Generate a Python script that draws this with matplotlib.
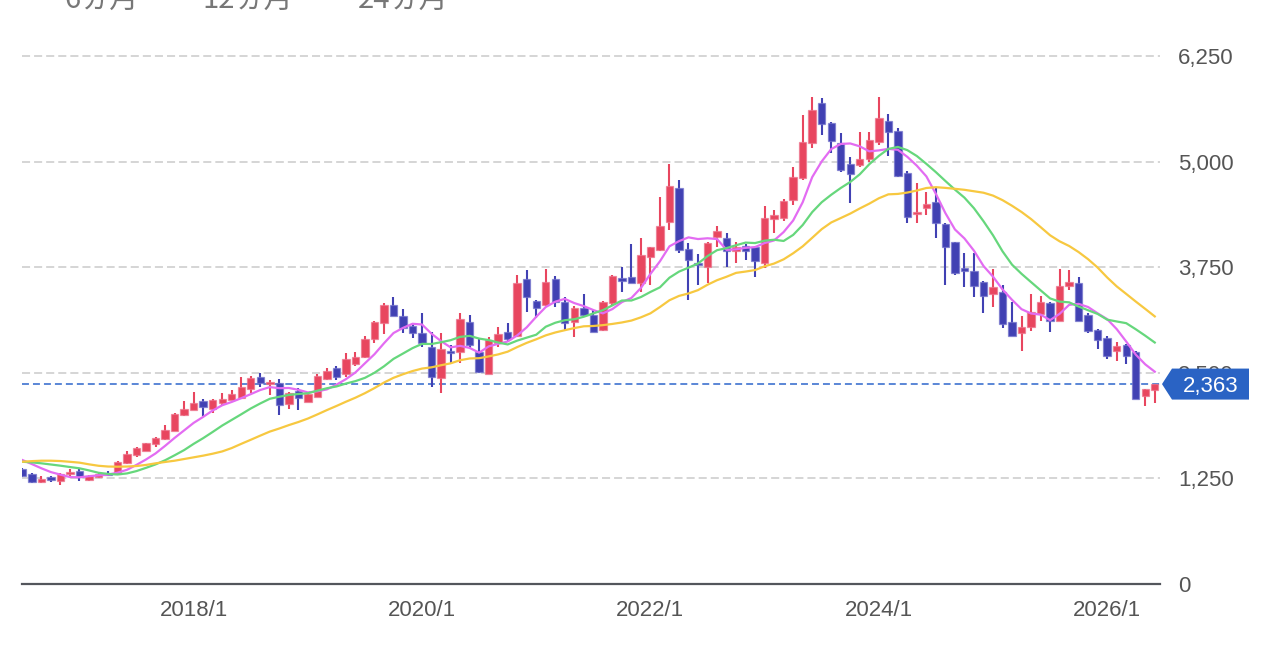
import numpy as np
import pandas as pd
import matplotlib
matplotlib.use("Agg")
import matplotlib.pyplot as plt
from matplotlib.patches import Polygon
import matplotlib.transforms as mtransforms

plt.rcParams['font.family'] = ['Liberation Sans', 'Noto Sans CJK JP', 'DejaVu Sans']
plt.rcParams['lines.scale_dashes'] = False

# ---------------- data (monthly candles) ----------------
start_month = "2016-07"
opens = [1353, 1297, 1203, 1250, 1215, 1294, 1333, 1226, 1258, 1306,
         1294, 1424, 1519, 1574, 1653, 1709, 1811, 1997, 2056, 2162,
         2064, 2135, 2174, 2202, 2301, 2443, 2360, 2372, 2124, 2281,
         2155, 2214, 2420, 2550, 2479, 2605, 2680, 2894, 3090, 3300,
         3170, 3051, 2965, 2806, 2431, 2747, 2747, 3102, 2747, 2483,
         2846, 2984, 2933, 3607, 3348, 3300, 3607, 3340, 3102, 3261,
         3182, 3000, 3320, 3617, 3632, 3557, 3866, 3952, 4288, 4690,
         3964, 3802, 3754, 4102, 4098, 3940, 4003, 3991, 3794, 4315,
         4328, 4545, 4802, 5224, 5690, 5461, 5216, 4967, 4959, 5027,
         5236, 5485, 5362, 4861, 4379, 4446, 4517, 4260, 4043, 3723,
         3703, 3576, 3427, 3451, 3102, 2965, 3043, 3194, 3327, 3114,
         3525, 3565, 3182, 3004, 2905, 2755, 2828, 2740, 2222, 2293]
highs = [1370, 1305, 1274, 1274, 1310, 1353, 1360, 1290, 1310, 1329,
         1450, 1570, 1620, 1670, 1730, 1875, 2015, 2166, 2265, 2190,
         2185, 2261, 2292, 2443, 2455, 2491, 2412, 2420, 2275, 2320,
         2255, 2478, 2550, 2581, 2728, 2743, 2933, 3110, 3327, 3391,
         3249, 3070, 3209, 2984, 2965, 2826, 3202, 3178, 2894, 2925,
         3043, 3083, 3656, 3715, 3360, 3723, 3644, 3391, 3290, 3431,
         3241, 3350, 3660, 3754, 4020, 4091, 3990, 4584, 4971, 4782,
         4031, 3905, 4045, 4236, 4157, 4050, 4020, 4000, 4473, 4426,
         4560, 4932, 5552, 5761, 5749, 5470, 5335, 5050, 5347, 5354,
         5761, 5560, 5402, 4892, 4743, 4643, 4683, 4270, 4050, 3913,
         3913, 3580, 3723, 3537, 3340, 3174, 3427, 3406, 3340, 3723,
         3715, 3636, 3200, 3010, 2930, 2858, 2840, 2760, 2301, 2364]
lows = [1265, 1190, 1195, 1199, 1164, 1274, 1215, 1220, 1250, 1275,
        1290, 1420, 1495, 1570, 1614, 1700, 1805, 1990, 2050, 1985,
        2017, 2110, 2170, 2195, 2253, 2325, 2234, 1997, 2064, 2056,
        2150, 2210, 2412, 2412, 2443, 2581, 2675, 2846, 2957, 3165,
        2965, 2913, 2807, 2332, 2253, 2617, 2617, 2787, 2498, 2478,
        2799, 2866, 2925, 3222, 3143, 3290, 3280, 3004, 2925, 3175,
        2980, 2990, 3300, 3458, 3560, 3458, 3537, 3940, 4189, 3913,
        3359, 3537, 3557, 3991, 3754, 3802, 3833, 3636, 3735, 4150,
        4300, 4485, 4780, 5157, 5315, 5098, 4880, 4505, 4930, 5000,
        5196, 5066, 4813, 4276, 4276, 4370, 4091, 3537, 3650, 3517,
        3391, 3209, 3273, 3024, 2930, 2755, 2996, 3114, 2984, 3110,
        3478, 3105, 2965, 2779, 2660, 2640, 2601, 2183, 2103, 2135]
closes = [1274, 1199, 1238, 1230, 1301, 1325, 1258, 1278, 1294, 1282,
          1443, 1531, 1609, 1661, 1724, 1819, 2009, 2064, 2143, 2088,
          2178, 2190, 2245, 2332, 2431, 2380, 2385, 2112, 2261, 2202,
          2245, 2459, 2522, 2443, 2657, 2680, 2897, 3102, 3300, 3170,
          3024, 2972, 2846, 2443, 2775, 2728, 3131, 2826, 2510, 2886,
          2957, 2894, 3566, 3399, 3261, 3578, 3340, 3090, 3269, 3182,
          2984, 3340, 3644, 3585, 3565, 3893, 3984, 4236, 4710, 3952,
          3833, 3774, 4039, 4181, 3940, 3991, 3940, 3826, 4328, 4366,
          4536, 4813, 5236, 5611, 5445, 5244, 4900, 4849, 5030, 5256,
          5512, 5354, 4833, 4347, 4399, 4497, 4268, 3984, 3676, 3707,
          3529, 3410, 3510, 3075, 2936, 3043, 3222, 3332, 3114, 3525,
          3576, 3111, 2996, 2886, 2700, 2818, 2692, 2183, 2301, 2363]

# moving-average values at the start of the chart (before a full window exists)
ma6_head = [1463, 1415, 1365, 1320, 1290]
ma12_head = [1443, 1435, 1424, 1410, 1396, 1380, 1365, 1340, 1312, 1298, 1292]
ma24_head = [1443, 1450, 1455, 1455, 1451, 1442, 1432, 1412, 1395, 1386, 1384, 1386,
             1392, 1405, 1424, 1440, 1455, 1475, 1495, 1515, 1538, 1565, 1605]

ma_windows = [6, 12, 24]
ma_heads = [ma6_head, ma12_head, ma24_head]
ma_colors = ["#e36cf2", "#66d77c", "#f7c840"]
legend_labels = ["6ヵ月", "12ヵ月", "24ヵ月"]

ytick_values = [0, 1250, 2500, 3750, 5000, 6250]
xtick_labels = ["2018/1", "2020/1", "2022/1", "2024/1", "2026/1"]

# ---------------- figure ----------------
W, H = 1268, 650
fig = plt.figure(figsize=(W / 100, H / 100), dpi=100)
ax_left, ax_right, ax_bottom, ax_top = 22, 1160, 583.5, 26.5
ax = fig.add_axes([ax_left / W, (H - ax_bottom) / H,
                   (ax_right - ax_left) / W, (ax_bottom - ax_top) / H])

n = len(closes)
idx = np.arange(n)
o = np.array(opens, float)
h = np.array(highs, float)
l = np.array(lows, float)
c = np.array(closes, float)

up_color = "#e8465f"
down_color = "#4141b3"
up = c >= o
colors = np.where(up, up_color, down_color)

ax.set_ylim(0, 6600)
ax.set_xlim(-0.04, n - 1 + 0.55)

# grid
ax.set_axisbelow(True)
ax.set_yticks(ytick_values)
ax.yaxis.grid(True, color="#d5d5d5", linewidth=1.4, linestyle=(0, (5.8, 2.9)))
ax.xaxis.grid(False)

# last price dashed line
last = closes[-1]
ax.axhline(last, color="#5a86d6", linewidth=1.4, linestyle=(0, (5.0, 2.9)), zorder=1)

# wicks
ax.vlines(idx, l, h, colors=colors, linewidth=1.5, zorder=2)
# bodies
units_per_px = 6600 / (ax_bottom - ax_top)
body = np.maximum(np.abs(c - o), 2.2 * units_per_px)
bottoms = np.minimum(o, c)
edge = [(0.93, 0.45, 0.55, 0.7) if u else (0.45, 0.45, 0.8, 0.7) for u in up]
ax.bar(idx, body, bottom=bottoms, width=0.78, color=colors, edgecolor=edge,
       linewidth=0.9, zorder=3)

# moving averages
cs = pd.Series(c)
for win, head, col in zip(ma_windows, ma_heads, ma_colors):
    ma = cs.rolling(win).mean().to_numpy()
    ma[:len(head)] = head
    ax.plot(idx, ma, color=col, linewidth=1.6, zorder=4, solid_joinstyle='round')

# axes styling
for s in ["top", "left", "right"]:
    ax.spines[s].set_visible(False)
ax.spines["bottom"].set_color("#53565c")
ax.spines["bottom"].set_linewidth(1.6)

ax.yaxis.tick_right()
ax.set_yticklabels([f"{v:,}" for v in ytick_values])
ax.tick_params(axis="y", length=0, pad=13, labelsize=16, labelcolor="#555555")

months = pd.period_range(start_month, periods=n, freq="M")
month_labels = [f"{p.year}/{p.month}" for p in months]
xpos = [month_labels.index(t) for t in xtick_labels]
ax.set_xticks(xpos)
ax.set_xticklabels(xtick_labels)
ax.tick_params(axis="x", length=0, pad=12, labelsize=16, labelcolor="#555555")

# last-price badge
trans = mtransforms.blended_transform_factory(ax.transAxes, ax.transData)
axw = ax_right - ax_left
half = 15.5 * units_per_px
x_tip = 1 + 2 / axw
x_l = 1 + 12 / axw
x_r = 1 + 89 / axw
badge = Polygon([(x_tip, last), (x_l, last + half), (x_r, last + half),
                 (x_r, last - half), (x_l, last - half)], closed=True,
                transform=trans, facecolor="#2a63c4", edgecolor="none",
                clip_on=False, zorder=10)
ax.add_patch(badge)
ax.text((x_l + x_r) / 2, last, f"{last:,}", transform=trans, ha="center",
        va="center_baseline", color="white", fontsize=16, zorder=11, clip_on=False)

# legend (cut off at the top edge, as in the original screenshot)
leg_x = [64, 202, 358]
for x, lab in zip(leg_x, legend_labels):
    fig.text(x / W, 1 - 8 / H, lab, ha="left", va="baseline", fontsize=21,
             color="#777777", family=['Noto Sans CJK JP', 'DejaVu Sans'])

fig.savefig("out.png", dpi=100)
